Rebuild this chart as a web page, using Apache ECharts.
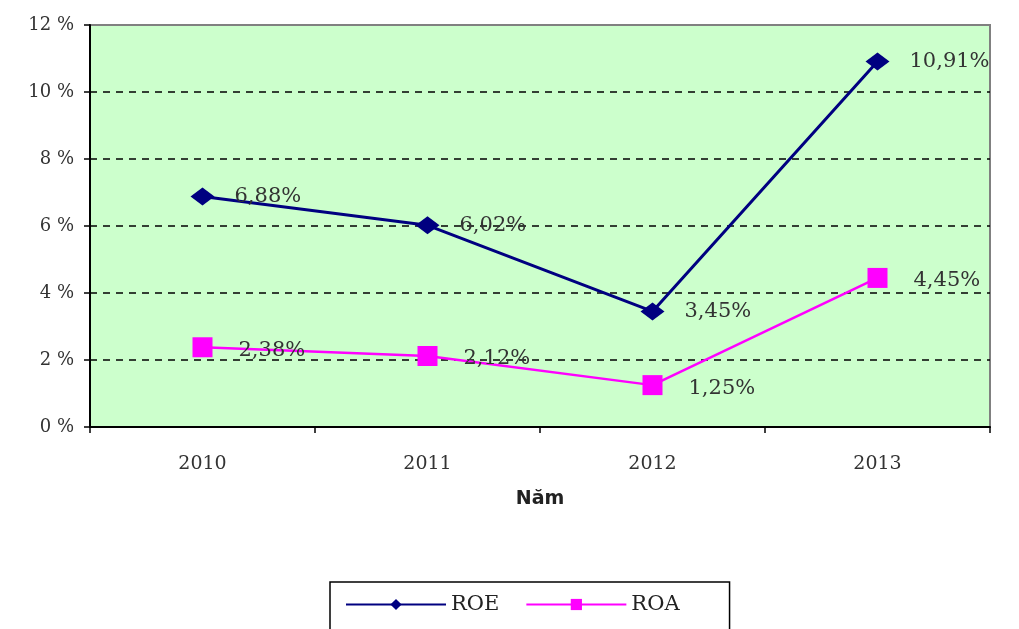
<!DOCTYPE html>
<html>
<head>
<meta charset="utf-8">
<script src="https://cdn.jsdelivr.net/npm/echarts@6/dist/echarts.min.js"></script>
<style>
  html, body { margin: 0; padding: 0; background: #fff; }
  #chart { width: 1019px; height: 629px; }
</style>
</head>
<body>
<div id="chart"></div>
<script>
// data
const years = ['2010', '2011', '2012', '2013'];
const roe = [6.88, 6.02, 3.45, 10.91];
const roa = [2.38, 2.12, 1.25, 4.45];
const roeLabels = ['6,88%', '6,02%', '3,45%', '10,91%'];
const roaLabels = ['2,38%', '2,12%', '1,25%', '4,45%'];

const serif = '"DejaVu Serif", "Liberation Serif", serif';
const chart = echarts.init(document.getElementById('chart'));

chart.setOption({
  backgroundColor: '#fff',
  animation: false,
  grid: {
    left: 90, right: 29, top: 25, bottom: 202,
    show: true,
    backgroundColor: '#ccffcc',
    borderColor: '#808080',
    borderWidth: 2
  },
  legend: {
    left: 330,
    top: 582,
    padding: [12, 50, 20, 15],
    borderColor: '#000',
    borderWidth: 1.5,
    borderRadius: 0,
    itemWidth: 100,
    itemHeight: 14,
    itemGap: 26,
    textStyle: { fontFamily: serif, fontSize: 21, color: '#222' },
    data: ['ROE', 'ROA']
  },
  xAxis: {
    type: 'category',
    data: years,
    boundaryGap: true,
    name: 'Năm',
    nameLocation: 'middle',
    nameGap: 63,
    nameTextStyle: { fontFamily: '"DejaVu Sans", sans-serif', fontWeight: 'bold', fontSize: 19, color: '#222' },
    axisLine: { lineStyle: { color: '#000', width: 2 } },
    axisTick: { show: true, length: 6, lineStyle: { color: '#000', width: 1.5 } },
    axisLabel: { fontFamily: serif, fontSize: 19, color: '#333', margin: 28 }
  },
  yAxis: {
    type: 'value',
    min: 0,
    max: 12,
    interval: 2,
    axisLine: { show: true, lineStyle: { color: '#000', width: 2 } },
    axisTick: { show: true, length: 6, lineStyle: { color: '#000', width: 1.5 } },
    axisLabel: { fontFamily: serif, fontSize: 18, color: '#333', margin: 16, formatter: v => v + ' %' },
    splitLine: {
      show: true,
      showMinLine: false,
      showMaxLine: false,
      lineStyle: { color: '#000', width: 1.5, type: [7, 6] }
    }
  },
  series: [
    {
      name: 'ROE',
      type: 'line',
      data: roe,
      symbol: 'diamond',
      symbolSize: [24, 18],
      color: '#000080',
      lineStyle: { color: '#000080', width: 3 },
      itemStyle: { color: '#000080' },
      label: {
        show: true,
        position: 'right',
        distance: 20,
        fontFamily: serif,
        fontSize: 21,
        color: '#333',
        formatter: p => roeLabels[p.dataIndex]
      },
      z: 3
    },
    {
      name: 'ROA',
      type: 'line',
      data: roa,
      symbol: 'rect',
      symbolSize: 20,
      color: '#ff00ff',
      lineStyle: { color: '#ff00ff', width: 2.5 },
      itemStyle: { color: '#ff00ff' },
      label: {
        show: true,
        position: 'right',
        distance: 26,
        fontFamily: serif,
        fontSize: 21,
        color: '#333',
        offset: [0, 3],
        formatter: p => roaLabels[p.dataIndex]
      },
      z: 2
    }
  ]
});
</script>
</body>
</html>
